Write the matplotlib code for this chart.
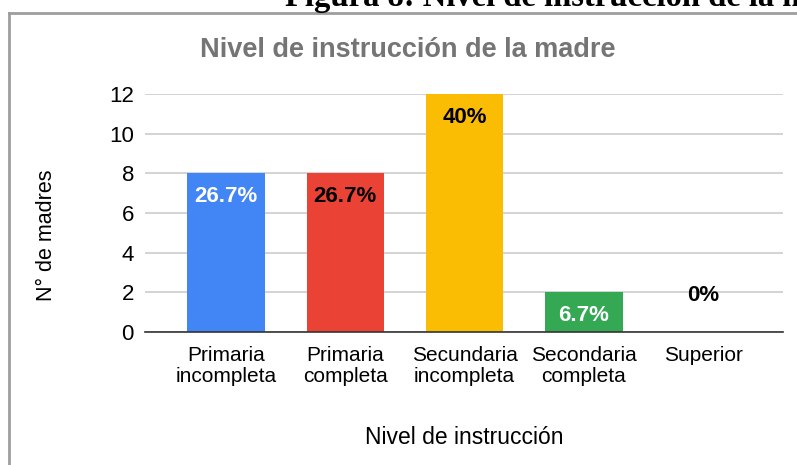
import numpy as np
import matplotlib.pyplot as plt
from matplotlib.lines import Line2D

categorias = ["Primaria\nincompleta", "Primaria\ncompleta", "Secundaria\nincompleta",
              "Secondaria\ncompleta", "Superior"]
madres = [8, 8, 12, 2, 0]
porcentajes = ["26.7%", "26.7%", "40%", "6.7%", "0%"]
colores = ["#4285F4", "#EA4335", "#FBBC04", "#34A853", "#A0A0A0"]
color_texto = ["white", "black", "black", "white", "black"]

plt.rcParams['font.family'] = ['Liberation Sans', 'DejaVu Sans']

W, H = 797, 465
fig = plt.figure(figsize=(W / 100, H / 100), dpi=100)
ax = fig.add_axes([145 / W, 1 - 332 / H, (783 - 145) / W, (332 - 94) / H])

x = np.arange(len(categorias))
ax.bar(x, madres, width=0.65, color=colores, zorder=3)

for xi, v, p, c in zip(x, madres, porcentajes, color_texto):
    off = -17 if v > 0 else 26
    ax.annotate(p, (xi, v), xytext=(0, off), textcoords="offset points",
                ha="center", va="center", fontsize=16, fontweight="bold",
                color=c, zorder=4)

ax.set_xlim(-0.68, 4.67)
ax.set_ylim(0, 12)
ax.set_yticks(range(0, 13, 2))
ax.set_xticks(x)
ax.set_xticklabels(categorias, fontsize=15, linespacing=1.15)
ax.tick_params(axis="y", length=0, pad=8, labelsize=16)
ax.tick_params(axis="x", length=0, pad=10)
ax.grid(axis="y", color="#cccccc", linewidth=1.2, zorder=0)
for s in ["top", "right", "left"]:
    ax.spines[s].set_visible(False)
ax.spines["bottom"].set_color("#333333")
ax.spines["bottom"].set_linewidth(1.2)
ax.spines["bottom"].set_zorder(5)

ax.set_ylabel("N° de madres", fontsize=15.5, va="center")
ax.yaxis.set_label_coords((46 - 145) / 638, (332 - 235) / 238)
ax.set_xlabel("Nivel de instrucción", fontsize=16.5, va="center")
ax.xaxis.set_label_coords((464 - 145) / 638, (332 - 437) / 238)

fig.text(408 / W, 1 - 50 / H, "Nivel de instrucción de la madre", ha="center", va="center",
         fontsize=19.5, fontweight="bold", color="#757575")

# recuadro del documento
fig.add_artist(Line2D([9 / W, 9 / W], [0, 1 - 13 / H], color="#9e9e9e", linewidth=2))
fig.add_artist(Line2D([9 / W, 1], [1 - 13 / H, 1 - 13 / H], color="#9e9e9e", linewidth=2))

fig.text(285 / W, 1 - 6 / H, "Figura 8: Nivel de instrucción de la madre", ha="left",
         va="baseline", fontsize=23.5, fontweight="bold", family="Liberation Serif")

plt.savefig("out.png", dpi=100)
